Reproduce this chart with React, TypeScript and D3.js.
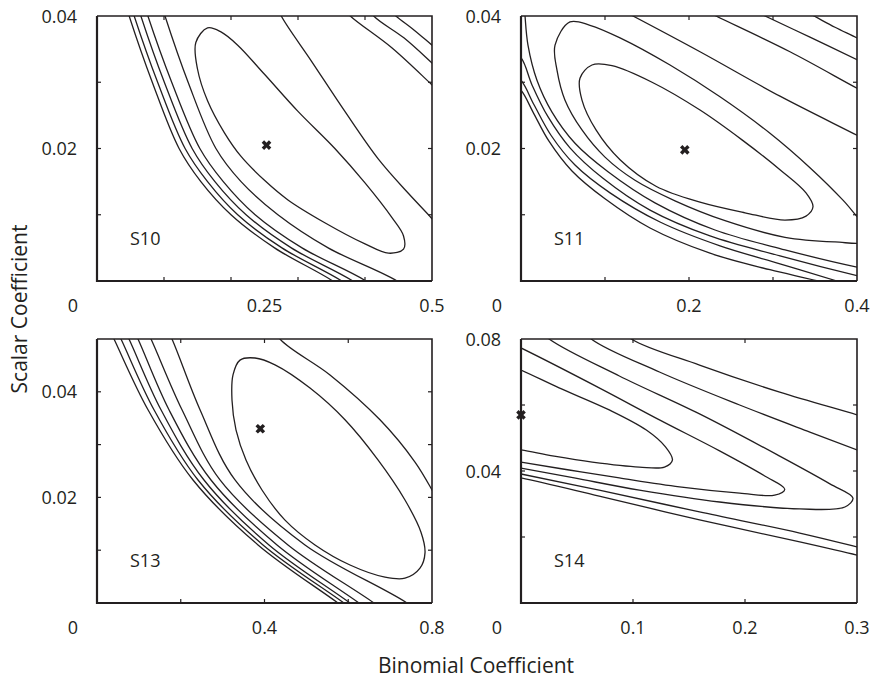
import React from 'react';
import * as d3 from 'd3';

type Pt = [number, number];

const xTitle = 'Binomial Coefficient';
const yTitle = 'Scalar Coefficient';

// ---------- S10 ----------
const s10Name = 'S10';
const s10XDomain: Pt = [0, 0.5];
const s10YDomain: Pt = [0, 0.04];
const s10XTicks = [0.1, 0.2, 0.3, 0.4];
const s10XLabels = [0.25, 0.5];
const s10YTicks = [0.01, 0.02, 0.03];
const s10YLabels = [0.04, 0.02];
const s10Best: Pt = [0.253, 0.0205];
const s10Closed: Pt[][] = [
  [[0.165, 0.0382], [0.1475, 0.036], [0.15, 0.032], [0.165, 0.0272], [0.19, 0.0224], [0.215, 0.0188], [0.25, 0.0152],
   [0.285, 0.01224], [0.34, 0.0088], [0.4, 0.0056], [0.435, 0.0042], [0.4575, 0.0048], [0.4575, 0.0068], [0.44, 0.0096],
   [0.4, 0.0148], [0.355, 0.02], [0.3, 0.0256], [0.25, 0.0312], [0.21, 0.0356], [0.185, 0.0376]],
];
const s10Open: Pt[][] = [
  [[0.033, 0.045], [0.048, 0.04], [0.0825, 0.03], [0.1225, 0.02], [0.155, 0.015], [0.2, 0.01], [0.265, 0.005], [0.352, 0], [0.422, -0.005]],
  [[0.0405, 0.045], [0.0555, 0.04], [0.0905, 0.03], [0.1315, 0.02], [0.165, 0.015], [0.21, 0.01], [0.276, 0.005], [0.3655, 0], [0.4355, -0.005]],
  [[0.0505, 0.045], [0.0655, 0.04], [0.1005, 0.03], [0.142, 0.02], [0.176, 0.015], [0.2225, 0.01], [0.29, 0.005], [0.382, 0], [0.452, -0.005]],
  [[0.061, 0.045], [0.076, 0.04], [0.1115, 0.03], [0.1535, 0.02], [0.1885, 0.015], [0.236, 0.01], [0.306, 0.005], [0.4015, 0], [0.4715, -0.005]],
  [[0.0865, 0.045], [0.1015, 0.04], [0.136, 0.03], [0.1775, 0.02], [0.215, 0.015], [0.27, 0.01], [0.345, 0.005], [0.448, 0], [0.518, -0.005]],
  [[0.265, 0.0424], [0.275, 0.04], [0.32, 0.0332], [0.37, 0.0256], [0.42, 0.0184], [0.465, 0.0132], [0.5, 0.0094], [0.525, 0.0064]],
  [[0.363, 0.0417], [0.378, 0.04], [0.44, 0.0352], [0.5, 0.0296], [0.519, 0.0278]],
  [[0.4, 0.042], [0.413, 0.04], [0.458, 0.0367], [0.5, 0.0329], [0.519, 0.0311]],
  [[0.434, 0.0412], [0.446, 0.04], [0.473, 0.0379], [0.5, 0.0356], [0.519, 0.034]],
];

// ---------- S11 ----------
const s11Name = 'S11';
const s11XDomain: Pt = [0, 0.4];
const s11YDomain: Pt = [0, 0.04];
const s11XTicks = [0.1, 0.2, 0.3];
const s11XLabels = [0.2, 0.4];
const s11YTicks = [0.01, 0.02, 0.03];
const s11YLabels = [0.04, 0.02];
const s11Best: Pt = [0.195, 0.0198];
const s11Closed: Pt[][] = [
  [[0.0845, 0.0326], [0.0702, 0.0306], [0.0726, 0.0273], [0.0893, 0.0228], [0.1179, 0.0183], [0.1607, 0.0143],
   [0.2131, 0.0119], [0.2667, 0.0103], [0.3143, 0.0092], [0.3393, 0.0098], [0.3476, 0.0112], [0.3393, 0.0133],
   [0.3083, 0.0168], [0.2631, 0.0213], [0.2131, 0.0258], [0.156, 0.03], [0.1083, 0.0325]],
  [[0.0583, 0.0391], [0.0405, 0.0356], [0.0429, 0.0318], [0.0524, 0.0273], [0.0726, 0.0228], [0.1, 0.0187],
   [0.1357, 0.0152], [0.1833, 0.0121], [0.2429, 0.0091], [0.3143, 0.0066], [0.3738, 0.0059], [0.4131, 0.0059],
   [0.4202, 0.0074], [0.406, 0.0089], [0.3833, 0.0122], [0.344, 0.0171], [0.2964, 0.0223], [0.2369, 0.0278],
   [0.1774, 0.0326], [0.1179, 0.0367], [0.0821, 0.0386]],
];
const s11Open: Pt[][] = [
  [[0.0036, 0.0424], [0.0048, 0.04], [0.0083, 0.0356], [0.019, 0.0303], [0.0369, 0.0255], [0.0643, 0.0208],
   [0.1036, 0.0165], [0.1595, 0.0118], [0.231, 0.0077], [0.3143, 0.0047], [0.4, 0.0021], [0.4274, 0.0015]],
  [[-0.019, 0.0356], [0, 0.0337], [0.0131, 0.0296], [0.0321, 0.0248], [0.0583, 0.0201], [0.0976, 0.0155],
   [0.1536, 0.0107], [0.225, 0.0068], [0.3083, 0.0038], [0.4, 0.0008], [0.4274, 0]],
  [[-0.019, 0.0323], [0, 0.0303], [0.0155, 0.0266], [0.0357, 0.022], [0.0643, 0.0175], [0.106, 0.0133],
   [0.1655, 0.0089], [0.2369, 0.0053], [0.3083, 0.0026], [0.3762, 0], [0.4155, -0.0015]],
  [[-0.019, 0.0308], [0, 0.0288], [0.0143, 0.0255], [0.0333, 0.0211], [0.0607, 0.0166], [0.1, 0.0124],
   [0.1536, 0.008], [0.225, 0.0042], [0.2964, 0.0017], [0.3536, 0], [0.3917, -0.0014]],
  [[0.106, 0.0418], [0.1333, 0.04], [0.2131, 0.0346], [0.3083, 0.0279], [0.4, 0.022], [0.4274, 0.0202]],
  [[0.2131, 0.0412], [0.2321, 0.04], [0.3202, 0.0346], [0.4, 0.0291], [0.4274, 0.0273]],
  [[0.2726, 0.0411], [0.2905, 0.04], [0.344, 0.0368], [0.4, 0.0334], [0.4274, 0.0317]],
  [[0.3321, 0.0411], [0.3488, 0.04], [0.3738, 0.0383], [0.4, 0.0367], [0.4274, 0.0349]],
];

// ---------- S13 ----------
const s13Name = 'S13';
const s13XDomain: Pt = [0, 0.8];
const s13YDomain: Pt = [0, 0.05];
const s13XTicks = [0.2, 0.4, 0.6];
const s13XLabels = [0.4, 0.8];
const s13YTicks = [0.01, 0.02, 0.03, 0.04];
const s13YLabels = [0.04, 0.02];
const s13Best: Pt = [0.39, 0.033];
const s13Closed: Pt[][] = [
  [[0.3415, 0.046], [0.3248, 0.0432], [0.3224, 0.0384], [0.3319, 0.0328], [0.3558, 0.0271], [0.394, 0.0214],
   [0.449, 0.0157], [0.5206, 0.011], [0.6042, 0.0072], [0.6878, 0.0049], [0.7355, 0.0047], [0.7713, 0.0066],
   [0.7833, 0.0095], [0.7737, 0.0134], [0.7355, 0.0195], [0.671, 0.0271], [0.5922, 0.0347], [0.5087, 0.0407],
   [0.4251, 0.0451], [0.3773, 0.0464]],
];
const s13Open: Pt[][] = [
  [[0.011, 0.055], [0.0406, 0.05], [0.1218, 0.0366], [0.2293, 0.0233], [0.3845, 0.011], [0.5755, 0], [0.66, -0.005]],
  [[0.027, 0.055], [0.0573, 0.05], [0.1361, 0.0366], [0.2412, 0.0233], [0.3964, 0.011], [0.5898, 0], [0.675, -0.005]],
  [[0.046, 0.055], [0.0764, 0.05], [0.1528, 0.0366], [0.2555, 0.0233], [0.4107, 0.011], [0.6042, 0], [0.689, -0.005]],
  [[0.068, 0.055], [0.0979, 0.05], [0.1719, 0.0366], [0.2722, 0.0233], [0.4299, 0.011], [0.6257, 0], [0.711, -0.005]],
  [[0.099, 0.055], [0.129, 0.05], [0.203, 0.0366], [0.2937, 0.0233], [0.4561, 0.011], [0.6615, 0], [0.746, -0.005]],
  [[0.149, 0.055], [0.1791, 0.05], [0.246, 0.0366], [0.3296, 0.0233], [0.4967, 0.011], [0.7403, 0], [0.825, -0.005]],
  [[0.4131, 0.0536], [0.437, 0.05], [0.5564, 0.0432], [0.6758, 0.0347], [0.7594, 0.0267], [0.8, 0.0214], [0.831, 0.0167]],
];

// ---------- S14 ----------
const s14Name = 'S14';
const s14XDomain: Pt = [0, 0.3];
const s14YDomain: Pt = [0, 0.08];
const s14XTicks = [0.1, 0.2];
const s14XLabels = [0.1, 0.2, 0.3];
const s14YTicks = [0.02, 0.04, 0.06];
const s14YLabels = [0.08, 0.04];
const s14Best: Pt = [0.0, 0.057];
const s14Closed: Pt[][] = [];
const s14Open: Pt[][] = [
  [[-0.0376, 0.0761], [0, 0.0706], [0.034, 0.0652], [0.0788, 0.0585], [0.1119, 0.0524], [0.129, 0.0473],
   [0.1352, 0.0433], [0.1281, 0.0412], [0.1057, 0.0412], [0.0636, 0.0427], [0.0296, 0.0445], [0, 0.0464], [-0.0376, 0.0485]],
  [[-0.0376, 0.0833], [0, 0.0773], [0.0698, 0.0652], [0.1236, 0.0555], [0.1773, 0.0461], [0.2176, 0.0385],
   [0.2355, 0.0345], [0.2265, 0.0327], [0.1952, 0.0333], [0.1415, 0.0352], [0.0878, 0.0379], [0.043, 0.0403],
   [0, 0.0427], [-0.0376, 0.0448]],
  [[0.0072, 0.0858], [0.0251, 0.08], [0.0878, 0.0688], [0.1594, 0.0573], [0.231, 0.0445], [0.2758, 0.0361],
   [0.2964, 0.0318], [0.2892, 0.0291], [0.2489, 0.0285], [0.1773, 0.0306], [0.1057, 0.0342], [0.0475, 0.0379],
   [0, 0.0409], [-0.0376, 0.0433]],
  [[0.0475, 0.0858], [0.0627, 0.08], [0.1236, 0.07], [0.1952, 0.06], [0.2579, 0.0518], [0.3, 0.0464], [0.3206, 0.0439]],
  [[-0.0376, 0.0415], [0, 0.0391], [0.0698, 0.0342], [0.1594, 0.0276], [0.2489, 0.0212], [0.3, 0.017], [0.3206, 0.0152]],
  [[0.0833, 0.0852], [0.0985, 0.08], [0.1594, 0.0721], [0.231, 0.0639], [0.3, 0.057], [0.3206, 0.0548]],
  [[-0.0376, 0.0403], [0, 0.0379], [0.0698, 0.0324], [0.1594, 0.0252], [0.2489, 0.0185], [0.3, 0.0145], [0.3206, 0.0127]],
];

type PanelCfg = {
  name: string; xDomain: Pt; yDomain: Pt; xTicks: number[]; xLabels: number[];
  yTicks: number[]; yLabels: number[]; best: Pt; closed: Pt[][]; open: Pt[][];
};

const panels: PanelCfg[] = [
  { name: s10Name, xDomain: s10XDomain, yDomain: s10YDomain, xTicks: s10XTicks, xLabels: s10XLabels, yTicks: s10YTicks, yLabels: s10YLabels, best: s10Best, closed: s10Closed, open: s10Open },
  { name: s11Name, xDomain: s11XDomain, yDomain: s11YDomain, xTicks: s11XTicks, xLabels: s11XLabels, yTicks: s11YTicks, yLabels: s11YLabels, best: s11Best, closed: s11Closed, open: s11Open },
  { name: s13Name, xDomain: s13XDomain, yDomain: s13YDomain, xTicks: s13XTicks, xLabels: s13XLabels, yTicks: s13YTicks, yLabels: s13YLabels, best: s13Best, closed: s13Closed, open: s13Open },
  { name: s14Name, xDomain: s14XDomain, yDomain: s14YDomain, xTicks: s14XTicks, xLabels: s14XLabels, yTicks: s14YTicks, yLabels: s14YLabels, best: s14Best, closed: s14Closed, open: s14Open },
];

const boxes = [
  { x0: 97, x1: 432, y0: 16, y1: 281 },
  { x0: 521, x1: 857, y0: 16, y1: 281 },
  { x0: 97, x1: 432, y0: 339, y1: 603 },
  { x0: 521, x1: 857, y0: 339, y1: 603 },
];

const INK = '#231f20';
const FONT = "'Open Sans', 'Noto Sans', sans-serif";
const fmt = (v: number) => String(v);

function Panel({ cfg, box, idx }: { cfg: PanelCfg; box: { x0: number; x1: number; y0: number; y1: number }; idx: number }) {
  const x = d3.scaleLinear().domain(cfg.xDomain).range([box.x0, box.x1]);
  const y = d3.scaleLinear().domain(cfg.yDomain).range([box.y1, box.y0]);
  const openLine = d3.line<Pt>().x(d => x(d[0])).y(d => y(d[1])).curve(d3.curveCatmullRom.alpha(0.5));
  const closedLine = d3.line<Pt>().x(d => x(d[0])).y(d => y(d[1])).curve(d3.curveCatmullRomClosed.alpha(0.5));
  const clipId = `clip-${idx}`;
  const tl = 4;
  const marker = d3.symbol().type(d3.symbolCross).size(58)() || '';
  return (
    <g>
      <defs>
        <clipPath id={clipId}>
          <rect x={box.x0} y={box.y0} width={box.x1 - box.x0} height={box.y1 - box.y0} />
        </clipPath>
      </defs>
      <g clipPath={`url(#${clipId})`} fill="none" stroke={INK} strokeWidth={1.3}>
        {cfg.closed.map((c, i) => <path key={'c' + i} d={closedLine(c) || ''} />)}
        {cfg.open.map((c, i) => <path key={'o' + i} d={openLine(c) || ''} />)}
      </g>
      <g stroke={INK} strokeWidth={1.2}>
        {cfg.xTicks.map((t, i) => (
          <g key={'xt' + i}>
            <line x1={x(t)} x2={x(t)} y1={box.y1} y2={box.y1 - tl} />
            <line x1={x(t)} x2={x(t)} y1={box.y0} y2={box.y0 + tl} />
          </g>
        ))}
        {cfg.yTicks.map((t, i) => (
          <g key={'yt' + i}>
            <line x1={box.x0} x2={box.x0 + tl} y1={y(t)} y2={y(t)} />
            <line x1={box.x1} x2={box.x1 - tl} y1={y(t)} y2={y(t)} />
          </g>
        ))}
      </g>
      <path d={`M${box.x0},${box.y0}H${box.x1}V${box.y1}`} fill="none" stroke={INK} strokeWidth={1.6} />
      <path d={`M${box.x0},${box.y0}V${box.y1}H${box.x1}`} fill="none" stroke={INK} strokeWidth={2.2} />
      <path d={marker} transform={`translate(${x(cfg.best[0])},${y(cfg.best[1])}) rotate(45)`} fill={INK} />
      <g fontFamily={FONT} fontSize={18} fill={INK}>
        {cfg.xLabels.map((v, i) => (
          <text key={'xl' + i} x={x(v)} y={box.y1 + 31} textAnchor="middle">{fmt(v)}</text>
        ))}
        <text x={box.x0 - 19} y={box.y1 + 31} textAnchor="end">0</text>
        {cfg.yLabels.map((v, i) => (
          <text key={'yl' + i} x={box.x0 - 20} y={y(v) + 6.5} textAnchor="end">{fmt(v)}</text>
        ))}
        <text x={box.x0 + 33} y={box.y1 - 36}>{cfg.name}</text>
      </g>
    </g>
  );
}

export default function App() {
  return (
    <svg width={874} height={680} style={{ position: 'absolute', left: 0, top: 0, background: '#fff' }}>
      <rect x={0} y={0} width={874} height={680} fill="#fff" />
      {panels.map((p, i) => <Panel key={p.name} cfg={p} box={boxes[i]} idx={i} />)}
      <text x={476} y={673} textAnchor="middle" fontFamily={FONT} fontSize={21} fill={INK}>{xTitle}</text>
      <text transform="translate(27,309) rotate(-90)" textAnchor="middle" fontFamily={FONT} fontSize={21} fill={INK}>{yTitle}</text>
    </svg>
  );
}
